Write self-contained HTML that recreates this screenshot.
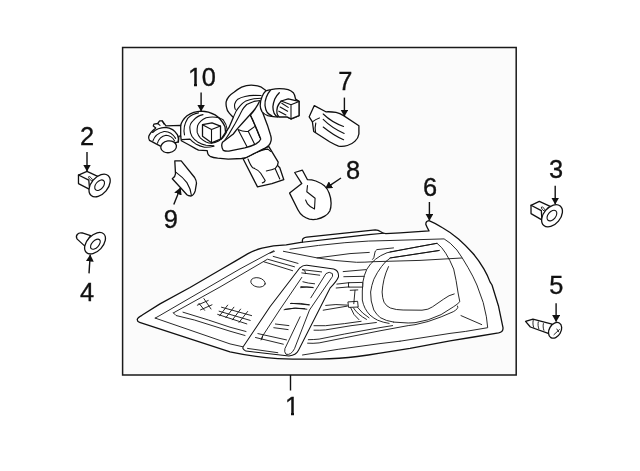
<!DOCTYPE html>
<html><head><meta charset="utf-8"><title>Tail lamp diagram</title>
<style>
html,body{margin:0;padding:0;background:#fff;}
body{width:640px;height:471px;overflow:hidden;}
svg{display:block;}
.t{font-family:"Liberation Sans",sans-serif;font-size:25.4px;fill:#111;stroke:#111;stroke-width:0.35px;text-anchor:middle;}
.l{fill:none;stroke:#111;stroke-width:1.3;stroke-linecap:round;stroke-linejoin:round;}
.w{fill:#fff;stroke:#111;stroke-width:1.3;stroke-linecap:round;stroke-linejoin:round;}
.f{fill:#fbfbfb;stroke:#111;stroke-width:1.3;stroke-linecap:round;stroke-linejoin:round;}
.n{fill:none;stroke:#111;stroke-width:0.9;stroke-linecap:round;stroke-linejoin:round;}
.m{fill:none;stroke:#111;stroke-width:1.1;stroke-linecap:round;stroke-linejoin:round;}
.wm{fill:#fff;stroke:#111;stroke-width:1.05;stroke-linecap:round;stroke-linejoin:round;}
.wf{fill:#fff;stroke:none;}
.wn{fill:#fff;stroke:#111;stroke-width:0.9;stroke-linecap:round;stroke-linejoin:round;}
.a{fill:none;stroke:#111;stroke-width:1.4;}
.h{fill:#111;stroke:none;}
path,ellipse,line,polyline,polygon,rect{vector-effect:non-scaling-stroke;}
</style></head><body>
<svg width="640" height="471" viewBox="0 0 640 471">
<rect x="0" y="0" width="640" height="471" fill="#fff"/>
<!-- frame -->
<rect x="122.6" y="47.4" width="393.6" height="327.5" fill="#fbfbfb" stroke="#1a1a1a" stroke-width="1.5"/>
<!-- labels -->
<g id="labels" style="filter:grayscale(1)">
<text class="t" x="292" y="414.5">1</text>
<text class="t" x="87.1" y="145">2</text>
<text class="t" x="556" y="178">3</text>
<text class="t" x="87.1" y="301">4</text>
<text class="t" x="556.3" y="294">5</text>
<text class="t" x="430.1" y="195.5">6</text>
<text class="t" x="345.4" y="89.5">7</text>
<text class="t" x="353" y="178.5">8</text>
<text class="t" x="170.8" y="228">9</text>
<text class="t" x="195 208.9" y="85.5">10</text>
</g>
<!-- trim the base serif of the digit 1 so it reads like the reference numeral -->
<g id="trim">
<rect x="285" y="412.55" width="6" height="3.6" fill="#fff"/><rect x="294" y="412.55" width="5" height="3.6" fill="#fff"/>
<rect x="188" y="83.55" width="6" height="3.6" fill="#fbfbfb"/><rect x="197" y="83.55" width="4.6" height="3.6" fill="#fbfbfb"/>
</g>
<!-- arrows -->
<defs>
<marker id="ah" markerWidth="8" markerHeight="8" refX="6.5" refY="4" orient="auto" markerUnits="userSpaceOnUse">
<path d="M0,0 L7,4 L0,8 Z" fill="#111"/>
</marker>
</defs>
<g id="arrows" class="a">
<line x1="290.5" y1="375" x2="290.5" y2="390.5"/>
<line x1="87" y1="152" x2="87" y2="171" marker-end="url(#ah)"/>
<line x1="555.2" y1="185.7" x2="555.2" y2="204" marker-end="url(#ah)"/>
<line x1="89" y1="273.4" x2="90.2" y2="255" marker-end="url(#ah)"/>
<line x1="556.1" y1="303.2" x2="556.1" y2="321.5" marker-end="url(#ah)"/>
<line x1="429.4" y1="202" x2="429.4" y2="220.2" marker-end="url(#ah)"/>
<line x1="344.4" y1="97.6" x2="344.4" y2="116" marker-end="url(#ah)"/>
<line x1="341" y1="178" x2="325.6" y2="188.3" marker-end="url(#ah)"/>
<line x1="173.8" y1="204.4" x2="180.4" y2="188" marker-end="url(#ah)"/>
<line x1="201.1" y1="92.4" x2="201.1" y2="111" marker-end="url(#ah)"/>
</g>

<!-- part 2 grommet: tile [60,160] scale 80/628 -->
<g transform="translate(60,160) scale(0.12739)">
<path class="w" d="M145,118 L212,90 L300,130 L240,235 L145,185 Z"/>
<path class="l" d="M145,118 L226,158 L232,226"/>
<ellipse class="n" cx="240" cy="147" rx="22" ry="8" transform="rotate(48 240 147)"/>
<ellipse class="w" cx="311" cy="200" rx="103" ry="66" transform="rotate(-50 311 200)"/>
<ellipse class="m" cx="311" cy="198" rx="48" ry="30" transform="rotate(-50 311 198)"/>
</g>
<!-- part 3 grommet: tile [510,190] -->
<g transform="translate(510,190) scale(0.12739)">
<path class="w" d="M165,120 L230,90 L320,130 L260,240 L165,185 Z"/>
<path class="l" d="M165,120 L246,162 L250,228"/>
<ellipse class="n" cx="262" cy="150" rx="22" ry="8" transform="rotate(48 262 150)"/>
<ellipse class="w" cx="330" cy="202" rx="100" ry="66" transform="rotate(-50 330 202)"/>
<ellipse class="m" cx="329" cy="201" rx="48" ry="30" transform="rotate(-50 329 201)"/>
</g>
<!-- part 4 nut: tile [60,220] -->
<g transform="translate(60,220) scale(0.12739)">
<path class="w" d="M240,122 L175,102 C140,95 118,125 135,150 L195,205 Z"/>
<ellipse class="w" cx="275" cy="182" rx="100" ry="62" transform="rotate(-47 275 182)"/>
<ellipse class="m" cx="278" cy="190" rx="48" ry="27" transform="rotate(-47 278 190)"/>
</g>
<!-- part 5 screw: tile [510,300] -->
<g transform="translate(510,300) scale(0.12739)">
<path class="w" d="M122,168 L180,150 L330,190 L300,262 L160,212 Z"/>
<path class="n" d="M182,160 C178,180 180,200 186,215 M222,172 C218,190 220,208 226,225 M262,185 C258,203 260,221 266,238"/>
<ellipse class="w" cx="354" cy="238" rx="66" ry="46" transform="rotate(-60 354 238)"/>
<path class="n" d="M345,272 L388,232 M368,228 L382,250"/>
</g>
<!-- lamp outer outline -->
<path class="w" d="M137.3 319.3Q137.6 317.5 141.9 315.3L160.0 303.9L190.0 287.5L220.0 270.0L235.3 261.1L248.0 253.6Q255.5 249.8 262.0 248.2L273.5 245.8L286.2 244.8L302.4 242.2L302.4 240.2Q302.6 237.7 306.8 237.1L375.3 229.8Q378.5 230.0 380.3 231.5Q383.0 233.4 385.8 233.6L400.0 232.8L429.0 230.9Q426.5 226.5 425.8 224.3Q425.8 221.0 429.0 220.6Q436.0 223.5 442.5 227.7Q451.0 232.5 458.5 238.9Q466.0 245.5 472.8 253.2Q479.0 260.5 484.0 269.1Q488.0 276.0 490.0 281.9L492.0 285.0L498.4 305.7L502.4 324.8L503.0 327.6Q503.4 332.0 498.6 332.9L473.7 337.0L450.0 340.8L410.0 348.3L380.0 353.2Q368.0 355.3 357.3 356.5Q340.0 358.6 319.1 359.1Q298.0 359.4 277.8 358.6Q255.0 357.2 230.0 351.9L139.6 322.4Q137.0 321.5 137.3 319.3Z"/>
<path class="m" d="M302.4 242.2L340.0 237.9L368.7 234.6L383.5 233.2"/>
<!-- lamp second (thin) outline -->
<path class="n" d="M155.2 318.1L160.0 315.4L240.0 268.9L273.6 250.8"/>
<path class="n" d="M155.2 318.1L230.0 343.9L246.0 347.5M302.5 355.0L338.2 349.3L380.0 343.6L400.0 341.2"/>
<path class="n" d="M400.0 341.2L450.0 333.4L465.7 331.4L487.7 327.7L486.4 316.8L483.2 302.5L476.9 285.0Q473.0 276.0 468.0 267.5Q462.0 257.0 456.9 250.0Q450.0 242.0 444.1 238.9L390.0 240.5Q350.0 240.5 290.0 249.2"/>
<path class="n" d="M173.4 312.9L220.0 287.0L240.0 275.3L267.5 259.2L294.5 266.8M263.9 261.8L292.6 270.7"/>
<path class="n" d="M173.4 312.9L176.0 315.5L194.4 320.0L230.0 331.2L245.0 335.5"/>
<path class="n" d="M183.0 312.2L208.4 320.0L230.0 327.2L246.0 331.5"/>
<!-- left section details -->
<ellipse class="n" cx="258.0" cy="282.4" rx="7.3" ry="4.6" transform="rotate(12 258.0 282.4)"/>
<path class="n" d="M273.2 256.4L298.0 263.4M270.0 253.2L274.5 251.3"/>
<path class="n" d="M203.9 298.6L211.0 309.0M198.9 303.3L204.6 310.3M197.3 305.2L208.2 300.5M200.5 309.9L212.0 304.8"/>
<path class="n" d="M221.5 307.2L251.6 315.6M219.1 311.2L250.2 320.4M217.7 314.4L246.8 323.9M227.7 305.1L219.6 315.8M233.9 307.2L225.8 317.7M240.6 309.1L232.5 319.8M247.6 311.5L239.0 322.5"/>
<!-- central bar -->
<path class="wm" d="M299.9 267.8Q303.0 265.0 306.9 265.3L333.7 268.9Q339.0 270.5 338.5 276.8Q337.0 281.0 330.0 288.2L298.5 350.3Q296.0 355.5 289.0 355.9L245.9 351.1Q241.5 349.0 243.5 346.3L270.0 306.7Z"/>
<path class="n" d="M301.8 277.4L279.6 310.0L262.6 336.0L261.8 339.1"/>
<path class="n" d="M310.8 297.8L326.0 273.6Q329.2 271.0 332.4 273.6Q333.0 277.0 331.8 277.4L309.5 310.0L294.5 348.7Q291.0 355.5 286.0 354.3Q284.0 352.0 284.9 348.7L300.1 316.8"/>
<path class="n" d="M302.5 269.7L321.6 271.9M301.8 272.9L319.7 275.2M302.5 269.7Q305.9 270.1 305.4 273.6M302.9 281.8Q308.2 283.4 314.6 283.8M300.6 287.6Q306.9 286.4 313.3 287.6"/>
<path class="n" d="M290.4 303.5Q300.6 302.6 309.5 304.8M285.3 309.2Q295.5 307.1 306.9 309.2"/>
<path class="n" d="M291.3 303.3L308.8 304.9M284.1 309.7Q293.7 307.0 304.8 308.6M300.9 286.6L312.8 287.4"/>
<path class="n" d="M275.4 324.0L288.9 325.6M273.8 327.7L288.1 329.6M257.9 333.6L286.5 339.9M255.5 337.5L283.3 344.2M247.5 348.4L277.8 352.7M262.6 336.0L261.1 339.9"/>
<!-- upper lines -->
<path class="n" d="M283.4 251.3L317.1 257.9Q335.0 261.0 356.6 262.3Q365.0 262.3 373.1 261.7L420.0 260.4L461.7 258.0"/>
<path class="n" d="M317.1 257.9L350.0 253.6L369.3 252.4"/>
<!-- third line right side (inner lens border) -->
<path class="n" d="M390.0 251.9L437.0 243.3Q442.0 247.0 445.7 253.2Q450.0 260.0 453.7 269.1L456.1 280.6L458.1 293.0L459.8 301.7Q457.5 304.3 453.3 306.9L441.1 314.6L428.1 319.8L415.0 322.7L408.2 323.0L393.6 322.1"/>
<path class="n" d="M457.6 306.1Q458.2 307.8 457.2 308.7Q455.5 310.5 453.3 311.7L441.1 316.9L428.1 321.5L415.0 324.7L408.2 325.6L400.0 327.1L380.0 330.8L344.6 337.8L319.1 342.9Q313.0 343.6 307.6 343.2"/>
<path class="n" d="M390.0 258.0L439.4 250.4"/>
<path class="n" d="M461.0 315.6L481.7 324.6"/>
<!-- reflector housing -->
<path class="n" d="M393.5 247.9L376.9 249.6Q375.0 251.0 375.0 252.1L373.8 257.8L372.5 259.4"/>
<path class="n" d="M420.0 246.4L387.1 252.7Q380.0 255.5 375.7 259.1Q370.0 263.5 366.8 269.3Q364.0 275.0 362.9 282.0Q362.0 291.0 362.3 300.0Q364.0 309.0 370.0 315.1Q374.0 318.5 377.6 320.2Q383.0 322.5 389.1 323.4"/>
<path class="n" d="M420.0 246.4L437.0 243.3"/>
<path class="n" d="M438.8 250.6L390.4 257.9Q385.0 261.5 381.5 266.6Q377.0 272.5 373.8 279.3Q371.5 285.5 370.6 292.0Q370.3 301.0 373.8 310.0Q376.5 314.5 380.2 317.6Q386.0 321.0 393.6 322.1"/>
<path class="n" d="M388.5 266.6Q385.5 273.0 384.0 279.3Q382.5 286.0 382.1 292.0Q382.3 298.0 384.0 302.2Q386.5 306.5 390.4 308.0Q396.0 310.0 403.1 310.0L422.0 310.2Q428.5 309.8 432.4 306.9L443.7 299.1Q449.0 295.0 454.2 293.9"/>
<!-- right-of-bar horizontal lines & wire -->
<path class="n" d="M308.3 339.7Q314.0 339.6 319.1 339.1L344.6 334.0L380.0 327.6L392.6 325.6M314.0 330.2Q320.0 330.4 325.5 329.9L351.0 325.7L376.4 322.5M314.0 325.7L325.5 325.7L344.6 323.6L361.1 321.3"/>
<path class="n" d="M323.2 310.2L347.4 306.1M325.7 305.4Q335.3 303.8 347.4 305.1"/>
<path class="wn" d="M348.3 301.9L357.6 301.3L358.2 307.0L349.0 307.4Z"/>
<path class="n" d="M350.6 307.6Q353.1 315.3 358.9 319.7M353.4 307.9Q357.6 314.6 366.5 319.4M357.6 307.4Q362.0 313.4 369.0 317.8"/>
<path class="n" d="M343.2 271.6L366.1 269.6M343.8 276.7L364.2 276.3"/>
<path class="wn" d="M348.9 282.7L362.7 282.4L362.7 287.1L348.9 287.1Z"/>
<path class="n" d="M350.2 290.3L357.8 289.9M355.0 290.3L353.8 303.7"/>
<path class="n" d="M336.9 284.1L349.0 282.7M336.2 288.0L349.0 286.9"/>
<!-- part 9 -->
<path class="w" d="M174.8 160.9L181.2 160.9L194.6 177.5Q196.5 180.7 196.5 183.2L195.2 190.9Q193.9 195.3 190.8 196.0Q188.2 196.0 186.9 194.7L180.6 187.7L172.3 178.8Q175.5 176.2 175.5 173.7Z"/>
<path class="m" d="M176.1 172.4Q183.1 177.5 186.9 182.6Q190.8 188.9 191.4 195.3"/>
<!-- part 8 -->
<path class="w" d="M294.7 172.5L302.4 170.2L307.5 179.7Q311.9 179.7 315.8 181.0Q320.9 182.9 324.7 186.1Q327.9 189.3 329.1 193.1Q331.1 198.2 331.1 203.3Q331.1 207.8 329.8 211.0Q327.9 214.5 324.7 216.1Q320.9 218.3 317.0 219.2Q313.2 219.9 309.4 219.2Q305.6 218.0 303.0 216.1Q299.8 213.5 297.9 209.7L289.6 193.1L301.8 183.6Z"/>
<path class="m" d="M307.5 185.5L306.8 191.8L315.1 198.2L314.5 209.0Q310.0 207.1 307.5 203.9L305.6 200.1"/>
<!-- part 7 -->
<path class="w" d="M314.3 105.6L325.8 111.8Q330.9 111.5 336.0 112.4Q339.8 113.3 343.6 115.6L358.9 125.8L358.9 134.0Q358.2 138.5 355.1 141.1Q351.9 144.2 347.4 145.5Q343.0 146.8 338.5 146.1Q334.0 144.2 329.6 141.7L313.7 131.5L312.4 121.9L309.2 116.8Z"/>
<path class="m" d="M312.4 121.9Q315.6 119.1 319.4 117.9M315.8 123.0Q314.6 127.7 315.6 132.4M323.2 114.0Q332.1 122.6 343.6 126.4M323.2 119.4Q332.1 128.3 344.2 133.4M323.2 127.0Q333.4 135.3 343.6 139.8"/>
<!-- plug (lower connector) -->
<path class="w" d="M243.2 159.0L257.5 186.9L271.9 183.7L283.8 179.7L279.8 167.8L277.5 165.4L278.2 162.2L268.7 146.3L252.8 154.2Z"/>
<path class="m" d="M248.0 159.0Q250.4 165.4 252.8 167.8Q258.3 169.7 260.7 173.3L265.2 180.5Q264.7 182.4 262.3 182.9M266.3 171.0Q272.7 169.7 275.1 168.6L277.5 165.4M275.1 168.6L279.8 178.9M256.0 152.6Q263.1 149.5 267.9 149.1L270.6 151.4"/>
<!-- arm + base plate fill -->
<path class="wf" d="M220.9 139.3L224.4 134.1L228.9 127.7L233.3 117.4Q229.7 113.8 228.9 112.6Q227.0 110.3 226.7 108.1Q225.7 104.6 226.2 101.7Q227.0 98.7 228.9 96.5Q231.3 93.9 234.3 92.0Q237.6 89.2 241.6 87.1Q246.4 85.2 251.2 85.2Q256.8 85.2 260.7 86.8L266.3 90.8L262.3 97.9L261.5 108.3L263.1 113.8L267.9 126.6L270.3 134.2Q271.6 138.5 268.7 145.4L263.9 148.6L252.8 154.1Q245.6 158.1 241.6 158.4L227.3 158.9L213.0 157.3L208.2 154.1L207.2 150.5L207.2 145.7L214.6 144.1Z"/>
<!-- socket 10 main -->
<path class="wf" d="M180.7 125.4Q181.9 120.3 187.0 115.8Q193.4 111.4 201.1 111.1Q208.7 111.4 215.1 114.9Q221.4 119.0 225.0 126.7L225.6 133.0L220.9 139.3L218.6 143.0L216.3 149.6L208.7 151.1L198.5 150.2L196.0 148.9L188.3 144.5L181.3 140.7L180.7 136.2Z"/>
<path class="l" d="M180.7 125.4Q181.9 120.3 187.0 115.8Q193.4 111.4 201.1 111.1Q208.7 111.4 215.1 114.9Q221.4 119.0 225.0 126.7L225.6 133.0"/>
<path class="m" d="M184.5 134.9Q182.6 126.7 187.7 118.4Q192.1 113.9 198.5 112.9M190.0 129.6Q188.9 124.1 193.4 120.3Q197.2 115.8 203.0 114.6M190.0 129.6Q190.2 133.3 191.9 136.2Q194.0 139.6 197.6 141.9Q201.7 144.2 206.1 145.3L213.9 145.8"/>
<path class="m" d="M181.9 139.6L190.0 139.1Q192.4 141.9 195.7 143.9Q199.8 146.0 204.4 147.2Q209.3 147.5 213.9 146.3"/>
<path class="m" d="M223.3 120.0Q226.5 124.1 227.2 129.6L226.3 132.4Q224.6 135.6 222.5 138.1L218.6 141.1Q215.1 142.7 211.5 143.3Q208.7 143.0 206.1 141.9Q203.0 140.4 200.5 138.1Q198.2 135.6 197.2 132.4Q196.8 129.2 197.6 125.8Q199.8 120.3 206.1 117.7Q212.5 116.2 218.9 117.7Q222.1 118.8 223.3 120.0"/>
<path class="w" d="M202.5 124.7L212.0 122.8L220.5 126.1L220.5 139.1L211.5 142.8L202.5 136.2Z"/>
<path class="m" d="M202.5 124.7L211.5 129.6L220.5 126.1M211.5 129.6L211.5 142.8"/>
<!-- assembly outline (continuous) -->
<path class="l" d="M220.9 139.3L224.4 134.1L228.9 127.7L233.3 117.4Q229.7 113.8 228.9 112.6Q227.0 110.3 226.7 108.1Q225.7 104.6 226.2 101.7Q227.0 98.7 228.9 96.5Q231.3 93.9 234.3 92.0Q237.6 89.2 241.6 87.1Q246.4 85.2 251.2 85.2Q256.8 85.2 260.7 86.8L266.3 90.8"/>
<path class="l" d="M261.5 108.3L263.1 113.8L267.9 126.6L270.3 134.2Q271.6 138.0 271.1 140.7Q270.5 143.8 268.7 145.5Q266.5 147.3 263.9 148.7L252.8 154.2Q247.0 157.8 241.6 158.5L228.2 159.2L217.7 158.2Q213.0 157.6 210.1 156.3Q208.0 155.0 207.7 153.4L207.2 150.6L198.5 150.2L196.0 148.9L188.3 144.5L181.3 140.7L180.7 136.2"/>
<path class="m" d="M235.3 109.4Q234.1 106.2 234.8 103.7Q235.7 101.1 237.8 99.2Q240.8 97.4 245.0 96.5Q249.6 95.5 253.9 95.4L261.1 95.5"/>
<path class="m" d="M261.1 98.2Q257.5 98.2 253.9 98.7Q249.6 99.5 245.9 100.9Q242.9 102.7 240.5 105.4Q238.1 108.0 236.1 111.1L233.3 117.4"/>
<path class="m" d="M260.1 100.5L253.9 101.4Q249.9 102.7 246.7 104.5Q244.2 107.0 242.3 109.9Q240.7 112.7 239.2 116.1L235.3 123.2L228.9 134.1L223.8 141.7"/>
<path class="w" d="M222.5 142.3Q220.6 146.3 223.3 150.3Q225.7 151.5 228.9 151.1L244.8 147.9Q251.2 146.3 256.0 143.9Q259.9 141.5 260.7 139.1L257.5 131.1L252.8 120.0L250.4 115.2Q254.4 110.4 255.6 108.1Q258.3 104.1 259.3 101.7Q256.8 106.5 255.6 108.1Q252.8 111.7 250.4 114.3L243.2 122.2L236.8 129.4L233.3 134.0Z"/>
<path class="m" d="M238.0 129.6Q244.0 132.1 248.2 131.3L255.3 126.1M238.0 129.6L246.9 146.6M248.2 131.3L254.5 144.0M250.4 115.2L254.8 125.1L259.9 137.5"/>
<!-- right socket -->
<path class="w" d="M265.9 90.8Q268.5 89.9 271.0 89.6Q275.5 88.7 279.3 88.7Q284.4 88.7 288.2 89.6Q291.4 90.8 293.3 92.7Q294.8 94.6 295.6 99.1L299.0 101.4L299.0 115.7L291.4 118.9L286.9 116.9L275.5 116.9Q271.0 116.7 267.8 115.7Q264.0 114.1 262.1 111.8Q260.2 108.7 260.2 105.5Q260.2 101.0 262.1 96.6Q263.8 92.7 265.9 90.8Z"/>
<path class="l" d="M270.4 90.2Q267.6 93.4 266.3 97.2Q264.6 101.7 265.0 105.5Q265.5 109.9 267.2 112.5Q269.1 114.6 271.9 115.9M279.3 92.7Q276.1 95.9 274.8 98.9Q273.2 102.9 272.9 106.8Q272.9 110.6 274.2 113.4Q275.5 115.7 277.4 116.9"/>
<path class="w" d="M281.2 101.0L288.2 98.9L299.0 101.4L299.0 115.7L291.0 118.9L286.9 116.9L279.3 116.9Q277.4 115.4 277.0 113.4Q276.5 110.6 277.4 107.0Q278.3 104.2 281.2 101.0Z"/>
<path class="m" d="M281.2 101.0L291.0 104.8L299.0 101.4M291.0 104.8L291.0 118.9M281.8 103.2L288.2 107.4M280.1 107.0L287.6 111.2M278.8 111.2L285.9 115.0"/>
<!-- left small socket + bulb -->
<path class="w" d="M180.7 125.4L166.0 125.8L162.2 120.9L159.6 120.9L157.7 123.5L153.9 124.1L153.3 126.0L155.8 127.9Q150.1 132.4 148.8 136.2Q148.2 138.4 149.5 140.4L160.9 146.4L178.4 141.9L178.8 136.2L180.7 136.2Z"/>
<ellipse class="w" cx="168.6" cy="146.8" rx="7.9" ry="5.9" transform="rotate(-8 168.6 146.8)"/>
<path class="l" d="M152.6 132.4Q157.7 127.7 165.4 127.4Q173.7 128.2 177.5 134.9Q179.1 138.8 178.1 142.2"/>
<path class="m" d="M152.9 140.9Q155.2 133.7 164.1 131.5Q171.1 131.1 175.6 138.4M157.5 143.2Q159.3 136.8 166.0 135.3Q171.8 135.6 174.6 140.9M157.7 123.5L160.0 125.4M162.2 120.9L164.1 124.1"/>

</svg>
</body></html>
